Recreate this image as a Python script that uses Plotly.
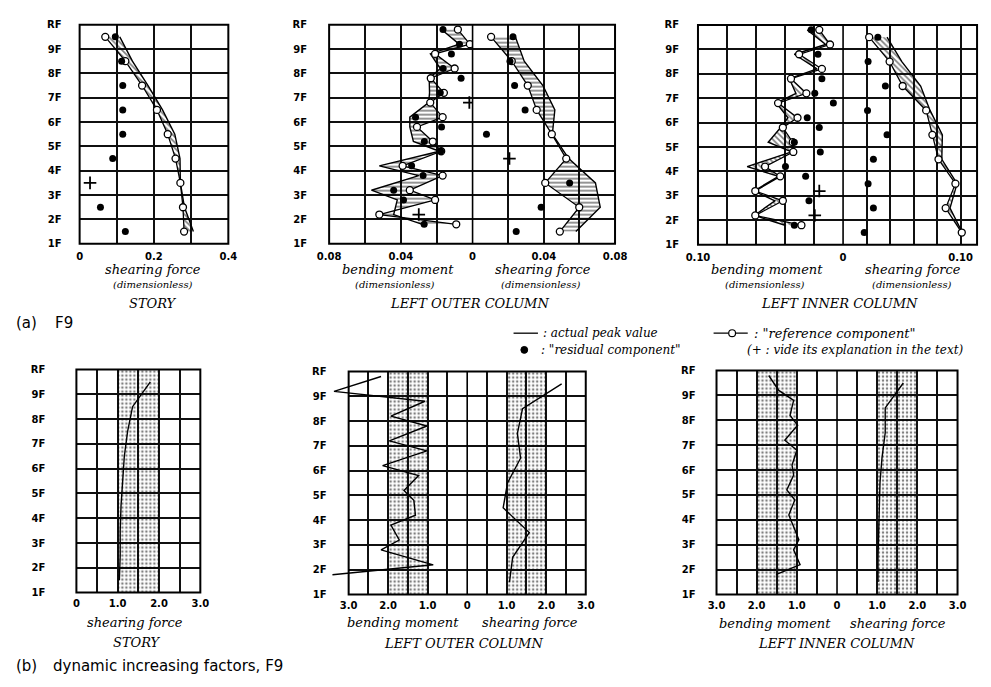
import plotly.graph_objects as go

W, H = 991, 687

# ------------------------------------------------------------------ data
floor_levels = [1, 2, 3, 4, 5, 6, 7, 8, 9, 10]
floor_labels = ["1F", "2F", "3F", "4F", "5F", "6F", "7F", "8F", "9F", "RF"]
story_levels = [9.5, 8.5, 7.5, 6.5, 5.5, 4.5, 3.5, 2.5, 1.5]
column_levels = [9.8, 9.2, 8.8, 8.2, 7.8, 7.2, 6.8, 6.2, 5.8, 5.2, 4.8, 4.2, 3.8, 3.2, 2.8, 2.2, 1.8]

# (a) STORY shearing force
story_ref = [0.069, 0.123, 0.168, 0.208, 0.237, 0.258, 0.271, 0.278, 0.281]
story_act = [0.108, 0.142, 0.184, 0.223, 0.256, 0.270, 0.271, 0.282, 0.306]
story_res = [0.096, 0.113, 0.116, 0.116, 0.116, 0.089, None, 0.056, 0.123]
story_plus_lv = [3.5]
story_plus = [0.028]

# (a) LEFT OUTER COLUMN
outer_bm_ref = [0.0082, 0.0015, 0.0209, 0.0100, 0.0233, 0.0160, 0.0236, 0.0167, 0.0310,
                0.0222, 0.0175, 0.0390, 0.0167, 0.0350, 0.0209, 0.0520, 0.0091]
outer_bm_act = [0.0173, 0.0075, 0.0235, 0.0180, 0.0242, 0.0240, 0.0245, 0.0350, 0.0350,
                0.0330, 0.0185, 0.0520, 0.0300, 0.0564, 0.0420, 0.0440, 0.0280]
outer_bm_res = [0.0165, 0.0073, 0.0118, 0.0164, 0.0064, 0.0180, None, 0.0318, 0.0173,
                0.0269, 0.0178, 0.0340, 0.0276, 0.0440, 0.0385, None, 0.0270]
outer_bm_plus_lv = [6.8, 2.2]
outer_bm_plus = [0.0018, 0.0300]

outer_sf_ref = [0.0104, 0.0220, 0.0310, 0.0360, 0.0445, 0.0526, 0.0408, 0.0599, 0.0490]
outer_sf_act = [0.0240, 0.0290, 0.0395, 0.0462, 0.0448, 0.0540, 0.0690, 0.0717, 0.0580]
outer_sf_res = [0.0227, 0.0210, 0.0236, 0.0295, 0.0078, None, 0.0545, 0.0385, 0.0245]
outer_sf_plus_lv = [4.5]
outer_sf_plus = [0.0207]

# (a) LEFT INNER COLUMN
inner_bm_ref = [0.0164, 0.0090, 0.0303, 0.0146, 0.0359, 0.0253, 0.0448, 0.0314, 0.0415,
                0.0347, 0.0343, 0.0538, 0.0433, 0.0605, 0.0415, 0.0605, 0.0287]
inner_bm_act = [0.0247, 0.0120, 0.0336, 0.0180, 0.0370, 0.0325, 0.0460, 0.0380, 0.0430,
                0.0516, 0.0355, 0.0661, 0.0445, 0.0615, 0.0470, 0.0612, 0.0400]
inner_bm_res = [0.0220, None, 0.0173, None, 0.0146, 0.0195, 0.0067, 0.0247, 0.0164,
                0.0336, 0.0157, 0.0397, 0.0258, None, 0.0235, None, 0.0336]
inner_bm_plus_lv = [3.2, 2.2]
inner_bm_plus = [0.0164, 0.0195]

inner_sf_ref = [0.0222, 0.0396, 0.0507, 0.0707, 0.0760, 0.0812, 0.0956, 0.0873, 0.1010]
inner_sf_act = [0.0374, 0.0500, 0.0660, 0.0740, 0.0845, 0.0840, 0.0970, 0.0910, 0.1015]
inner_sf_res = [0.0296, 0.0213, 0.0360, 0.0208, 0.0374, 0.0258, 0.0213, 0.0258, 0.0180]

# (b) dynamic increasing factors
dif_band = [1.0, 2.0]
story_dif = [1.79, 1.36, 1.24, 1.16, 1.12, 1.08, 1.06, 1.06, 1.04]
outer_bm_dif = [2.18, 3.37, 1.07, 1.93, 1.02, 1.97, 1.02, 2.14, 1.23,
                1.60, 1.35, 1.31, 1.93, 1.72, 2.18, 0.86, 3.41]
outer_sf_dif = [2.39, 1.40, 1.27, 1.35, 1.02, 0.91, 1.57, 1.15, 1.07]
inner_bm_dif = [1.70, 1.45, 1.08, 1.17, 0.98, 1.30, 1.00, 1.12, 1.08,
                1.25, 1.05, 1.20, 1.10, 0.95, 1.08, 0.92, 1.52]
inner_sf_dif = [1.65, 1.20, 1.20, 1.12, 1.07, 1.05, 1.03, 1.02, 1.02]

# ------------------------------------------------------------------ styling helpers
GRID = "#101010"
TICKF = "DejaVu Sans"
SERIF = "DejaVu Serif"


def px_x(p):
    return p / W


def px_y(p):
    return 1 - p / H


def xax(dom, rng, tickvals, ticktext, anchor, standoff=5, visible=True):
    return dict(domain=[px_x(dom[0]), px_x(dom[1])], range=rng, autorange=False,
                tickmode="array", tickvals=tickvals,
                ticktext=[("<b>%s</b>" % t) if t else "" for t in ticktext],
                showgrid=True, gridcolor=GRID, gridwidth=1.5, zeroline=False,
                showline=False, ticks="", tickfont=dict(family=TICKF, size=10, color="black"),
                anchor=anchor, ticklabelstandoff=standoff, fixedrange=True, visible=visible)


def yax(dom, anchor, standoff, visible=True):
    return dict(domain=[px_y(dom[1]), px_y(dom[0])], range=[floor_levels[0], floor_levels[-1]],
                autorange=False, tickmode="array", tickvals=floor_levels,
                ticktext=["<b>%s</b>" % t for t in floor_labels],
                showgrid=True, gridcolor=GRID, gridwidth=1.5, zeroline=False,
                showline=False, ticks="", tickfont=dict(family=TICKF, size=10, color="black"),
                anchor=anchor, ticklabelstandoff=standoff, fixedrange=True, visible=visible)


traces = []


def hatch(xa, ya, ref, act, lv, shape):
    xs = list(ref) + list(act)[::-1] + [ref[0]]
    ys = list(lv) + list(lv)[::-1] + [lv[0]]
    traces.append(go.Scatter(x=xs, y=ys, xaxis=xa, yaxis=ya, mode="lines", fill="toself",
                             line=dict(width=0, color="black"),
                             fillpattern=dict(shape=shape, size=4, solidity=0.42,
                                              fgcolor="black", bgcolor="rgba(0,0,0,0)"),
                             hoverinfo="skip", showlegend=False))


def line(xa, ya, xs, lv, width=1.4):
    traces.append(go.Scatter(x=xs, y=lv, xaxis=xa, yaxis=ya, mode="lines",
                             line=dict(color="black", width=width), showlegend=False))


def ref_line(xa, ya, xs, lv):
    traces.append(go.Scatter(x=xs, y=lv, xaxis=xa, yaxis=ya, mode="lines+markers",
                             line=dict(color="black", width=1.3),
                             marker=dict(symbol="circle", size=7, color="white",
                                         line=dict(color="black", width=1.3)),
                             showlegend=False))


def dots(xa, ya, xs, lv):
    traces.append(go.Scatter(x=xs, y=lv, xaxis=xa, yaxis=ya, mode="markers",
                             marker=dict(symbol="circle", size=7, color="black"),
                             showlegend=False))


def plus(xa, ya, xs, lv):
    traces.append(go.Scatter(x=xs, y=lv, xaxis=xa, yaxis=ya, mode="markers",
                             marker=dict(symbol="cross-thin", size=9,
                                         line=dict(color="black", width=1.8)),
                             showlegend=False))


def band(xa, ya):
    b0, b1 = dif_band
    f0, f1 = floor_levels[0], floor_levels[-1]
    traces.append(go.Scatter(x=[b0, b1, b1, b0, b0], y=[f0, f0, f1, f1, f0], xaxis=xa, yaxis=ya,
                             mode="lines", fill="toself", line=dict(width=0, color="black"),
                             fillpattern=dict(shape=".", size=4, solidity=0.32,
                                              fgcolor="black", bgcolor="rgba(0,0,0,0)"),
                             hoverinfo="skip", showlegend=False))


# ------------------------------------------------------------------ (a) panels
hatch("x", "y", story_ref, story_act, story_levels, "\\")
line("x", "y", story_act, story_levels)
ref_line("x", "y", story_ref, story_levels)
dots("x", "y", story_res, story_levels)
plus("x", "y", story_plus, story_plus_lv)

hatch("x2", "y2", outer_bm_ref, outer_bm_act, column_levels, "-")
line("x2", "y2", outer_bm_act, column_levels)
ref_line("x2", "y2", outer_bm_ref, column_levels)
dots("x2", "y2", outer_bm_res, column_levels)
plus("x2", "y2", outer_bm_plus, outer_bm_plus_lv)

hatch("x3", "y2", outer_sf_ref, outer_sf_act, story_levels, "-")
line("x3", "y2", outer_sf_act, story_levels)
ref_line("x3", "y2", outer_sf_ref, story_levels)
dots("x3", "y2", outer_sf_res, story_levels)
plus("x3", "y2", outer_sf_plus, outer_sf_plus_lv)

hatch("x4", "y3", inner_bm_ref, inner_bm_act, column_levels, "\\")
line("x4", "y3", inner_bm_act, column_levels)
ref_line("x4", "y3", inner_bm_ref, column_levels)
dots("x4", "y3", inner_bm_res, column_levels)
plus("x4", "y3", inner_bm_plus, inner_bm_plus_lv)

hatch("x5", "y3", inner_sf_ref, inner_sf_act, story_levels, "\\")
line("x5", "y3", inner_sf_act, story_levels)
ref_line("x5", "y3", inner_sf_ref, story_levels)
dots("x5", "y3", inner_sf_res, story_levels)

# ------------------------------------------------------------------ (b) panels
band("x6", "y4")
line("x6", "y4", story_dif, story_levels)

band("x7", "y5")
band("x8", "y5")
line("x11", "y7", outer_bm_dif, column_levels)
line("x8", "y5", outer_sf_dif, story_levels)

band("x9", "y6")
band("x10", "y6")
line("x9", "y6", inner_bm_dif, column_levels)
line("x10", "y6", inner_sf_dif, story_levels)

fig = go.Figure(traces)

half = [0, 0.5, 1, 1.5, 2, 2.5, 3]
half_l = ["0", "", "1.0", "", "2.0", "", "3.0"]

layout_axes = dict(
    xaxis=xax((69.3, 221.7), [0, 0.4], [0, 0.1, 0.2, 0.3, 0.4], ["0", "", "0.2", "", "0.4"], "y"),
    yaxis=yax((19, 242), "x", 17),
    xaxis2=xax((325, 472), [0.08, 0], [0, 0.02, 0.04, 0.06, 0.08], ["0", "", "0.04", "", "0.08"], "y2"),
    xaxis3=xax((472, 618), [0, 0.08], [0.02, 0.04, 0.06, 0.08], ["", "0.04", "", "0.08"], "y2"),
    yaxis2=yax((19, 242), "x2", 21),
    xaxis4=xax((703, 851.7), [0.10, 0], [0, 0.02, 0.04, 0.06, 0.08, 0.10],
               ["0", "", "", "", "", "0.10"], "y3"),
    xaxis5=xax((851.7, 989), [0, 0.114], [0.02, 0.04, 0.06, 0.08, 0.10],
               ["", "", "", "", "0.10"], "y3"),
    yaxis3=yax((19.3, 243), "x4", 18),
    xaxis6=xax((66, 193), [0, 3], half, half_l, "y4", 3),
    yaxis4=yax((370, 597), "x6", 30),
    xaxis7=xax((345, 466.5), [3, 0], half, half_l, "y5", 3),
    xaxis8=xax((466.5, 588), [0, 3], half[1:], half_l[1:], "y5", 3),
    yaxis5=yax((372, 599), "x7", 21),
    xaxis9=xax((722, 845.5), [3, 0], half, half_l, "y6", 3),
    xaxis10=xax((845.5, 969), [0, 3], half[1:], half_l[1:], "y6", 3),
    yaxis6=yax((371, 599), "x9", 20),
    xaxis11=xax((345 - 0.45 * 40.5, 466.5), [3.45, 0], [], [], "y7", visible=False),
    yaxis7=yax((372, 599), "x11", 0, visible=False),
)

# ------------------------------------------------------------------ frames
shapes = []
frames = [(69.3, 19, 221.7, 242), (325, 19, 618, 242), (703, 19.3, 989, 243),
          (66, 370, 193, 597), (345, 372, 588, 599), (722, 371, 969, 599)]
for (a, b, c, d) in frames:
    shapes.append(dict(type="rect", xref="paper", yref="paper", x0=px_x(a), x1=px_x(c),
                       y0=px_y(d), y1=px_y(b), line=dict(color="black", width=2),
                       fillcolor="rgba(0,0,0,0)", layer="above"))
for (xp, y0p, y1p) in [(472, 19, 242), (851.7, 19.3, 243), (466.5, 372, 599), (845.5, 371, 599)]:
    shapes.append(dict(type="line", xref="paper", yref="paper", x0=px_x(xp), x1=px_x(xp),
                       y0=px_y(y1p), y1=px_y(y0p), line=dict(color="black", width=1.6)))

# legend symbols
shapes.append(dict(type="line", xref="paper", yref="paper", x0=px_x(514), x1=px_x(539),
                   y0=px_y(333), y1=px_y(333), line=dict(color="black", width=1.3)))
shapes.append(dict(type="line", xref="paper", yref="paper", x0=px_x(719), x1=px_x(754),
                   y0=px_y(333), y1=px_y(333), line=dict(color="black", width=1.3)))
shapes.append(dict(type="circle", xref="paper", yref="paper", x0=px_x(734.5), x1=px_x(741.5),
                   y0=px_y(336.5), y1=px_y(329.5), fillcolor="white",
                   line=dict(color="black", width=1.2)))
shapes.append(dict(type="circle", xref="paper", yref="paper", x0=px_x(521.5), x1=px_x(528.5),
                   y0=px_y(353.5), y1=px_y(346.5), fillcolor="black",
                   line=dict(color="black", width=1)))

# ------------------------------------------------------------------ texts
annotations = []


def ann(text, x, y, size=13, family=SERIF, italic=True, xanchor="center"):
    t = ("<i>%s</i>" % text) if italic else text
    annotations.append(dict(text=t, x=px_x(x), y=px_y(y), xref="paper", yref="paper",
                            xanchor=xanchor, yanchor="middle", showarrow=False,
                            font=dict(family=family, size=size, color="black")))


ann("shearing force", 145, 268)
ann("(dimensionless)", 145, 283, size=10)
ann("STORY", 145, 303, size=13)
ann("bending moment", 396, 268)
ann("(dimensionless)", 393, 283, size=10)
ann("shearing force", 544, 268)
ann("(dimensionless)", 542, 283, size=10)
ann("LEFT OUTER COLUMN", 469, 303, size=13)
ann("bending moment", 774, 268)
ann("(dimensionless)", 772, 283, size=10)
ann("shearing force", 923, 268)
ann("(dimensionless)", 922, 283, size=10)
ann("LEFT INNER COLUMN", 848, 303, size=13)

ann("(a)", 2, 323, size=15, family="DejaVu Sans", italic=False, xanchor="left")
ann("F9", 42, 323, size=15, family="DejaVu Sans", italic=False, xanchor="left")

ann(": actual peak value", 542, 333, size=12, xanchor="left")
ann(': "reference component"', 758, 333, size=13, xanchor="left")
ann(': "residual component"', 540, 350, size=12, xanchor="left")
ann("(+ : vide its explanation in the text)", 977, 350, size=12, xanchor="right")

ann("shearing force", 126, 627)
ann("STORY", 128, 648, size=13)
ann("bending moment", 401, 627)
ann("shearing force", 531, 627)
ann("LEFT OUTER COLUMN", 463, 649, size=13)
ann("bending moment", 782, 628)
ann("shearing force", 908, 628)
ann("LEFT INNER COLUMN", 845, 649, size=13)

ann("(b)", 2, 672, size=15, family="DejaVu Sans", italic=False, xanchor="left")
ann("dynamic increasing factors, F9", 40, 672, size=15, family="DejaVu Sans", italic=False,
    xanchor="left")

fig.update_layout(width=W, height=H, margin=dict(l=0, r=0, t=0, b=0),
                  paper_bgcolor="white", plot_bgcolor="rgba(0,0,0,0)",
                  showlegend=False, shapes=shapes, annotations=annotations,
                  font=dict(family=TICKF, color="black"), **layout_axes)

fig.write_html("out.html", post_script="document.body.style.margin='0';",
               config={"displayModeBar": False})
